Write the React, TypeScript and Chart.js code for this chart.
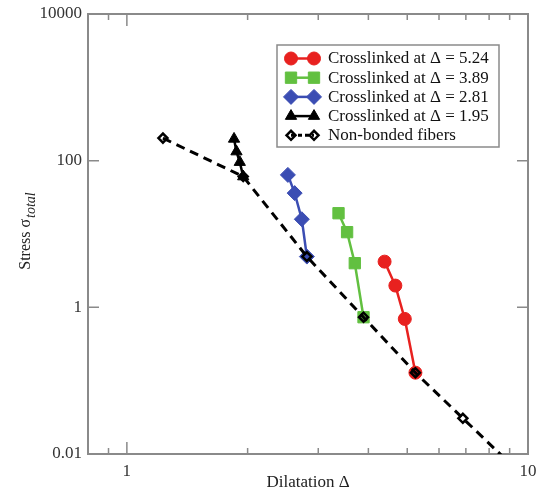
import React, { useEffect, useRef } from 'react';
import { Chart, registerables } from 'chart.js';

Chart.register(...registerables);

const FONT = "'Liberation Serif', 'Times New Roman', serif";

// Data (log-log)
const nonBondedX = [1.23, 1.95, 2.81, 3.89, 5.24, 6.88, 9.0];
const nonBondedY = [203, 60.7, 4.92, 0.733, 0.1285, 0.0307, 0.0075];

const cl524X = [4.39, 4.67, 4.93, 5.24];
const cl524Y = [4.2, 1.98, 0.695, 0.1285];

const cl389X = [3.37, 3.54, 3.7, 3.89];
const cl389Y = [19.2, 10.6, 4.0, 0.733];

const cl281X = [2.52, 2.62, 2.73, 2.81];
const cl281Y = [64, 36.1, 15.9, 4.92];

const cl195X = [1.85, 1.876, 1.912, 1.95];
const cl195Y = [198, 133, 95.5, 60.7];

const seriesLabels = [
  'Crosslinked at \u0394 = 5.24',
  'Crosslinked at \u0394 = 3.89',
  'Crosslinked at \u0394 = 2.81',
  'Crosslinked at \u0394 = 1.95',
  'Non-bonded fibers',
];

const xTickValues = [0.9, 1, 2, 3, 4, 5, 6, 7, 8, 9, 10];
const xLabelledValues = [1, 10];
const yTickValues = [0.01, 1, 100, 10000];
const yTickLabels = ['0.01', '1', '100', '10000'];

const xTitle = 'Dilatation \u0394';
const yTitleMain = 'Stress \u03c3';
const yTitleSub = 'total';

const toPoints = (xs: number[], ys: number[]) => xs.map((x, i) => ({ x, y: ys[i] }));

function drawMarker(ctx: CanvasRenderingContext2D, style: string, x: number, y: number, r: number) {
  ctx.beginPath();
  if (style === 'circle') {
    ctx.arc(x, y, r, 0, Math.PI * 2);
  } else if (style === 'rect') {
    const s = Math.SQRT1_2 * r;
    ctx.rect(x - s, y - s, 2 * s, 2 * s);
  } else if (style === 'rectRot') {
    ctx.moveTo(x - r, y);
    ctx.lineTo(x, y - r);
    ctx.lineTo(x + r, y);
    ctx.lineTo(x, y + r);
    ctx.closePath();
  } else if (style === 'triangle') {
    let a = 0;
    ctx.moveTo(x + Math.sin(a) * r, y - Math.cos(a) * r);
    a += (2 * Math.PI) / 3;
    ctx.lineTo(x + Math.sin(a) * r, y - Math.cos(a) * r);
    a += (2 * Math.PI) / 3;
    ctx.lineTo(x + Math.sin(a) * r, y - Math.cos(a) * r);
    ctx.closePath();
  }
}

const AXIS_COLOR = '#8a8a8a';

const framePlugin = {
  id: 'frameTicks',
  beforeDatasetsDraw(chart: any) {
    const { ctx, chartArea: a, scales } = chart;
    ctx.save();
    ctx.strokeStyle = AXIS_COLOR;
    ctx.lineWidth = 2;
    ctx.strokeRect(a.left, a.top, a.right - a.left, a.bottom - a.top);
    ctx.lineWidth = 1.5;
    ctx.beginPath();
    for (const v of xTickValues) {
      const px = scales.x.getPixelForValue(v);
      const len = xLabelledValues.includes(v) ? 12 : 6;
      ctx.moveTo(px, a.bottom);
      ctx.lineTo(px, a.bottom - len);
      ctx.moveTo(px, a.top);
      ctx.lineTo(px, a.top + len);
    }
    for (const v of yTickValues) {
      const py = scales.y.getPixelForValue(v);
      ctx.moveTo(a.left, py);
      ctx.lineTo(a.left + 11, py);
      ctx.moveTo(a.right, py);
      ctx.lineTo(a.right - 11, py);
    }
    ctx.stroke();
    ctx.restore();
  },
  afterDraw(chart: any) {
    const { ctx, chartArea: a } = chart;
    ctx.save();
    ctx.fillStyle = '#222';
    // x title
    ctx.font = `17px ${FONT}`;
    ctx.textAlign = 'center';
    ctx.textBaseline = 'middle';
    ctx.fillText(xTitle, (a.left + a.right) / 2, 483);
    // y title with subscript
    const cy = (a.top + a.bottom) / 2 - 3;
    ctx.translate(30, cy);
    ctx.rotate(-Math.PI / 2);
    ctx.textAlign = 'left';
    ctx.textBaseline = 'alphabetic';
    ctx.font = `16px ${FONT}`;
    const w1 = ctx.measureText(yTitleMain).width;
    ctx.font = `italic 14px ${FONT}`;
    const w2 = ctx.measureText(yTitleSub).width;
    const start = -(w1 + w2 + 1) / 2;
    ctx.font = `16px ${FONT}`;
    ctx.fillText(yTitleMain, start, 0);
    ctx.font = `italic 14px ${FONT}`;
    ctx.fillText(yTitleSub, start + w1 + 1, 5);
    ctx.restore();
  },
};

const legendPlugin = {
  id: 'customLegend',
  afterDatasetsDraw(chart: any) {
    const { ctx } = chart;
    const left = 277, top = 45, right = 499, bottom = 147;
    ctx.save();
    ctx.fillStyle = '#ffffff';
    ctx.fillRect(left, top, right - left, bottom - top);
    ctx.strokeStyle = AXIS_COLOR;
    ctx.lineWidth = 1.5;
    ctx.strokeRect(left, top, right - left, bottom - top);
    const datasets = chart.data.datasets;
    datasets.forEach((ds: any, i: number) => {
      const y = 58.5 + i * 19.2;
      const x1 = 291, x2 = 314;
      ctx.save();
      ctx.strokeStyle = ds.borderColor;
      ctx.lineWidth = ds.borderWidth;
      ctx.setLineDash(ds.legendDash || []);
      ctx.beginPath();
      ctx.moveTo(x1, y);
      ctx.lineTo(x2, y);
      ctx.stroke();
      ctx.setLineDash([]);
      for (const mx of [x1, x2]) {
        drawMarker(ctx, ds.pointStyle, mx, y, ds.pointRadius);
        ctx.fillStyle = ds.pointBackgroundColor;
        ctx.fill();
        ctx.lineWidth = ds.pointBorderWidth;
        ctx.strokeStyle = ds.pointBorderColor;
        if (ds.pointBorderWidth > 0) ctx.stroke();
      }
      ctx.restore();
      ctx.fillStyle = '#111';
      ctx.font = `17px ${FONT}`;
      ctx.textAlign = 'left';
      ctx.textBaseline = 'middle';
      ctx.fillText(seriesLabels[i], 328, y + 0.5);
    });
    ctx.restore();
  },
};

const RED = '#e8211f';
const GREEN = '#62c040';
const BLUE = '#3b4db3';
const BLACK = '#000000';

export default function App() {
  const ref = useRef<HTMLCanvasElement | null>(null);
  useEffect(() => {
    if (!ref.current) return;
    const coloured = (label: string, xs: number[], ys: number[], color: string, style: string, r: number) => ({
      label,
      data: toPoints(xs, ys),
      showLine: true,
      borderColor: color,
      backgroundColor: color,
      borderWidth: 2.5,
      pointStyle: style,
      pointRadius: r,
      pointBackgroundColor: color,
      pointBorderColor: color,
      pointBorderWidth: 1,
      order: 1,
    });
    const chart = new Chart(ref.current, {
      type: 'scatter',
      data: {
        datasets: [
          coloured(seriesLabels[0], cl524X, cl524Y, RED, 'circle', 6.5),
          coloured(seriesLabels[1], cl389X, cl389Y, GREEN, 'rect', 8),
          coloured(seriesLabels[2], cl281X, cl281Y, BLUE, 'rectRot', 7.5),
          coloured(seriesLabels[3], cl195X, cl195Y, BLACK, 'triangle', 6.5),
          {
            label: seriesLabels[4],
            data: toPoints(nonBondedX, nonBondedY),
            showLine: true,
            borderColor: BLACK,
            backgroundColor: 'rgba(0,0,0,0)',
            borderWidth: 3,
            borderDash: [9, 6],
            legendDash: [4, 3],
            pointStyle: 'rectRot',
            pointRadius: 4.5,
            pointBackgroundColor: 'rgba(255,255,255,0)',
            pointBorderColor: BLACK,
            pointBorderWidth: 2.5,
            order: 0,
          } as any,
        ],
      },
      options: {
        animation: false,
        responsive: false,
        layout: { padding: { top: 14, right: 10, left: 0, bottom: 0 } },
        plugins: { legend: { display: false }, tooltip: { enabled: false } },
        scales: {
          x: {
            type: 'logarithmic',
            min: 0.8,
            max: 10,
            grid: { display: false, drawTicks: false },
            border: { display: false },
            afterBuildTicks: (scale: any) => {
              scale.ticks = xTickValues.map((v) => ({ value: v }));
            },
            afterFit: (scale: any) => {
              scale.height = 46;
              scale.paddingLeft = 0;
              scale.paddingRight = 0;
            },
            ticks: {
              autoSkip: false,
              maxRotation: 0,
              padding: 7,
              color: '#333',
              font: { family: FONT, size: 17 },
              callback: (v: any) => (xLabelledValues.some((l) => Math.abs(l - Number(v)) < 1e-9) ? String(v) : ''),
            },
          },
          y: {
            type: 'logarithmic',
            min: 0.01,
            max: 10000,
            grid: { display: false, drawTicks: false },
            border: { display: false },
            afterBuildTicks: (scale: any) => {
              scale.ticks = yTickValues.map((v) => ({ value: v }));
            },
            afterFit: (scale: any) => {
              scale.width = 88;
              scale.paddingTop = 0;
              scale.paddingBottom = 0;
            },
            ticks: {
              autoSkip: false,
              padding: 6,
              color: '#333',
              font: { family: FONT, size: 17 },
              callback: (v: any) => {
                const i = yTickValues.findIndex((t) => Math.abs(Math.log10(t) - Math.log10(Number(v))) < 1e-6);
                return i >= 0 ? yTickLabels[i] : '';
              },
            },
          },
        },
      } as any,
      plugins: [framePlugin, legendPlugin],
    });
    return () => chart.destroy();
  }, []);
  return (
    <canvas
      ref={ref}
      width={538}
      height={500}
      style={{ position: 'absolute', left: 0, top: 0, width: 538, height: 500, background: '#fff' }}
    />
  );
}
